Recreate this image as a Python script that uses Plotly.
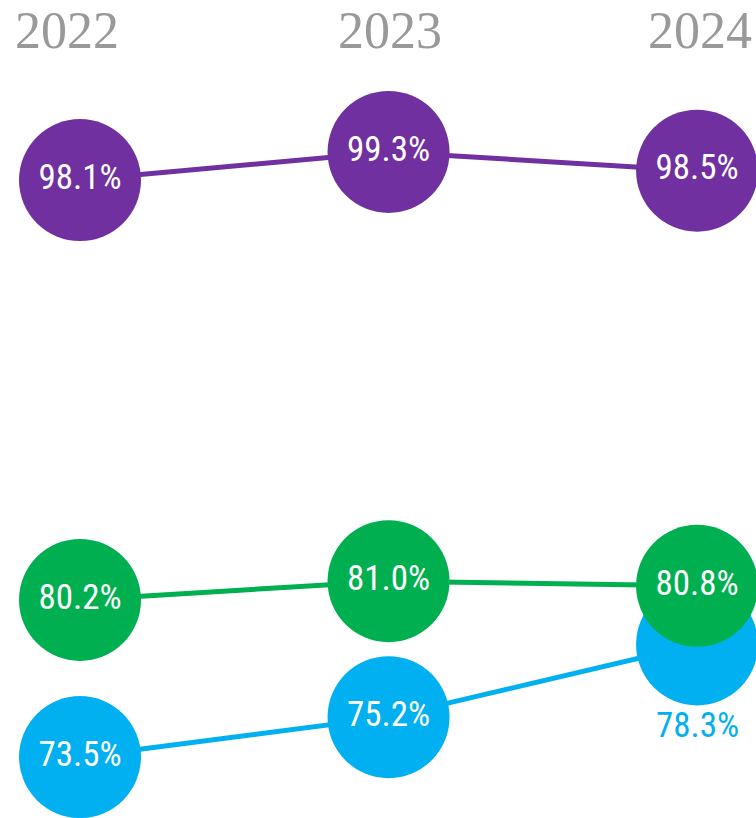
import plotly.graph_objects as go

years = ["2022", "2023", "2024"]
series_names = ["Blue", "Green", "Purple"]
blue_vals = [73.5, 75.2, 78.3]
green_vals = [80.2, 81.0, 80.8]
purple_vals = [98.1, 99.3, 98.5]

colors = {"Blue": "#00B0F0", "Green": "#00B050", "Purple": "#7030A0"}
values = {"Blue": blue_vals, "Green": green_vals, "Purple": purple_vals}

x = list(range(len(years)))
label_font = "Roboto Condensed, DejaVu Sans Condensed, Roboto, sans-serif"

fig = go.Figure()
for name in series_names:
    vals = values[name]
    c = colors[name]
    texts = [f"{v:.1f}%" for v in vals]
    if name == "Blue":
        # last blue label sits below its circle (added as annotation)
        texts[-1] = ""
    fig.add_trace(go.Scatter(
        x=x, y=vals, mode="lines+markers+text",
        line=dict(color=c, width=5),
        marker=dict(size=122, color=c, line=dict(width=0)),
        text=texts,
        textposition="middle center",
        textfont=dict(family=label_font, size=35, color="white"),
        hoverinfo="skip", showlegend=False, cliponaxis=False,
    ))
    if name == "Blue":
        fig.add_annotation(
            x=x[-1], y=vals[-1], xref="x", yref="y", yshift=-81,
            text=f"{vals[-1]:.1f}%", showarrow=False,
            font=dict(family=label_font, size=35, color=c),
        )

year_shift = [-13, 1, 3]
for i, yr in enumerate(years):
    fig.add_annotation(
        x=i, y=1, xref="x", yref="paper", yanchor="top", yshift=0,
        xshift=year_shift[i], text=yr, showarrow=False,
        font=dict(family="Liberation Serif, Times New Roman, serif", size=52, color="#999999"),
    )

fig.update_layout(
    width=756, height=818,
    margin=dict(l=0, r=0, t=0, b=0),
    paper_bgcolor="white", plot_bgcolor="white",
    xaxis=dict(range=[-0.2593, 2.191], visible=False, fixedrange=True),
    yaxis=dict(range=[70.90, 105.78], visible=False, fixedrange=True),
)

fig.write_html(
    "out.html",
    config={"displayModeBar": False, "staticPlot": True},
    post_script="document.body.style.margin='0';document.body.style.overflow='hidden';",
)
